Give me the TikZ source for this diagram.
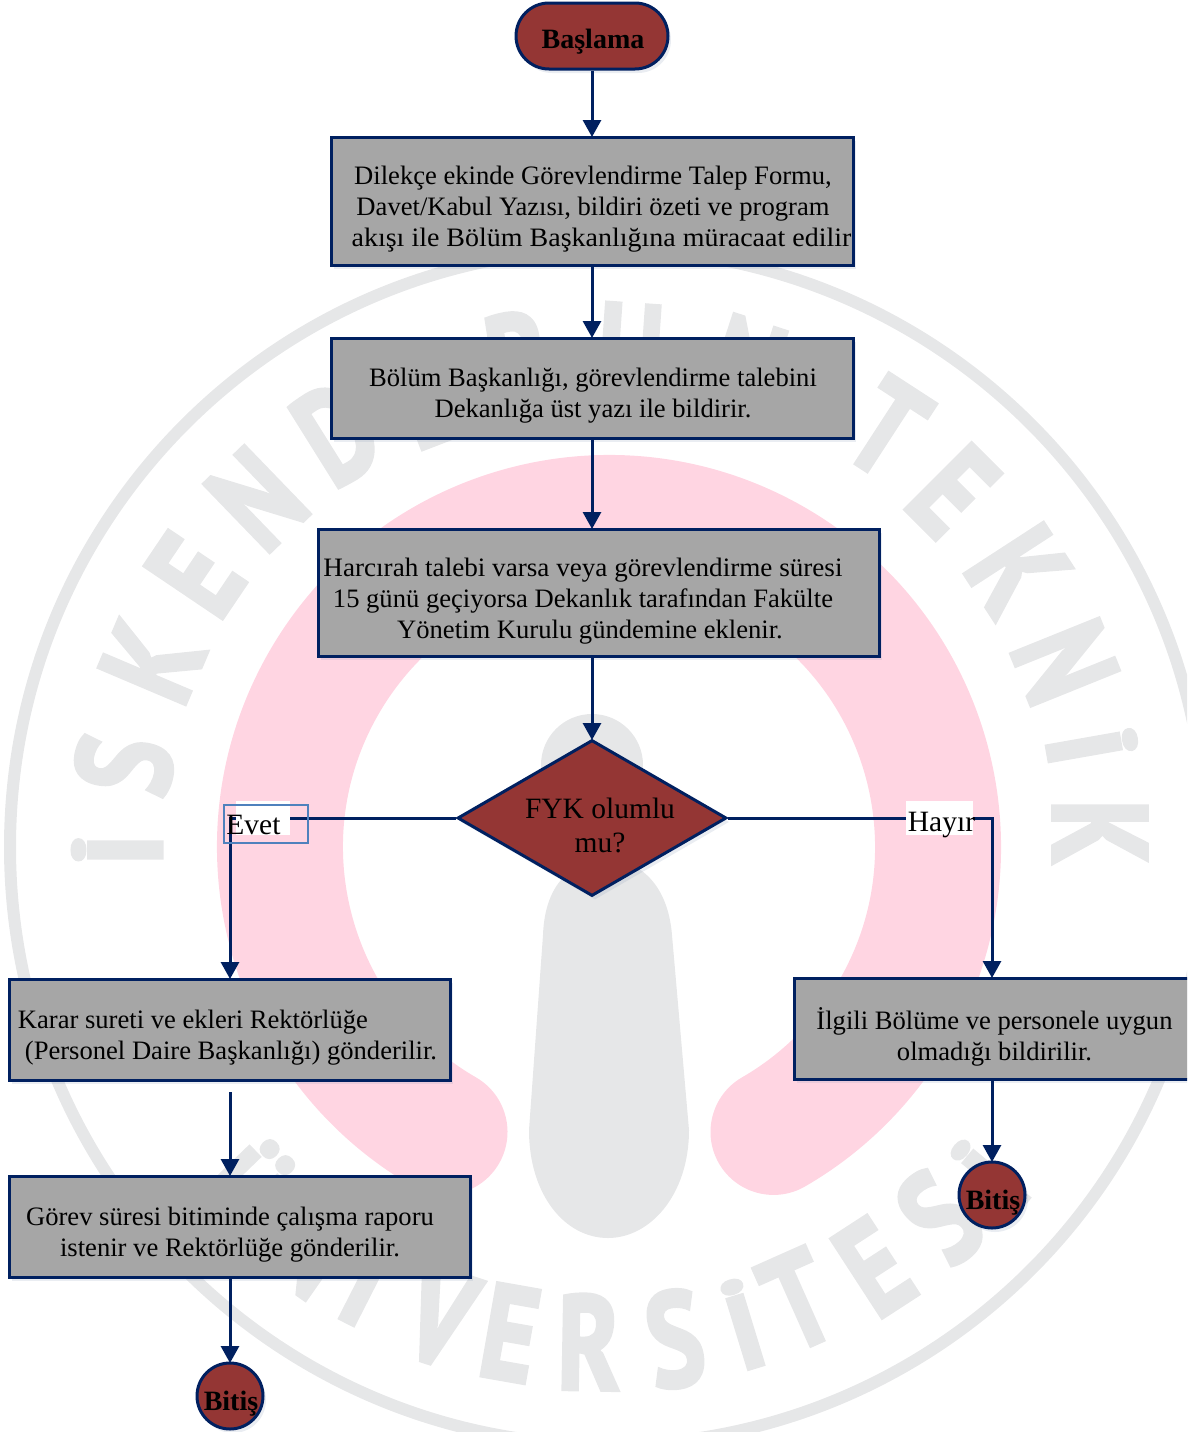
\documentclass[tikz,border=0pt]{standalone}
\usepackage{graphicx}
\usepackage{fontspec}
\setmainfont{Liberation Serif}
\newfontfamily\wmfont[BoldFeatures={FakeBold=3}]{PT Sans}
\usetikzlibrary{arrows.meta,shapes.geometric,shadows,calc}
\definecolor{navy}{HTML}{002060}
\definecolor{boxgray}{HTML}{A6A6A6}
\definecolor{brick}{HTML}{943634}
\definecolor{wmgray}{HTML}{E6E7E8}
\definecolor{wmpink}{HTML}{FFD5E2}
\definecolor{tagblue}{HTML}{4F81BD}
\newcommand\wl[1]{\scalebox{.78}[1]{#1}}
\newcommand\wi{\scalebox{.85}[.78]{İ}}
\tikzset{
  softshadow/.style={general shadow={shadow xshift=3pt,shadow yshift=-4pt,fill=navy!45,opacity=.18}},
  flowbox/.style={draw=navy,line width=3pt,fill=boxgray,inner sep=0pt,softshadow,text=black},
  wm/.style={font=\wmfont\bfseries\fontsize{134}{134}\selectfont,text=wmgray,inner sep=0pt},
  txt/.style={font=\fontsize{26.6}{31}\selectfont,align=center,inner sep=0pt,text=black},
  arr/.style={draw=navy,line width=3pt,shorten >=-1.5pt,-{Triangle[length=17pt,width=18pt]}},
  endpt/.style={circle,draw=navy,line width=3pt,fill=brick,minimum size=66pt,inner sep=0pt,softshadow},
  boldlab/.style={font=\bfseries\fontsize{28}{32}\selectfont,inner sep=0pt,text=black},
  patch/.style={fill=white,draw=none,inner sep=0pt},
}
\begin{document}
\begin{tikzpicture}[x=1pt,y=-1pt]
\useasboundingbox (0,0) rectangle (1187,1432);
\clip (0,0) rectangle (1187,1432);
% watermark
\draw[wmgray,line width=12pt] (608,847) circle[radius=598pt];
\draw[wmpink,line width=126pt,line cap=round] (609,847) ++(240:329pt) arc[start angle=240,end angle=-60,radius=329pt];
\fill[wmgray] (592,765) circle[radius=51pt];
\fill[wmgray] (543,935) .. controls (545,880) and (575,860) .. (608,860) .. controls (640,860) and (668,885) .. (672,935) -- (689,1130) .. controls (689,1195) and (650,1238) .. (608,1238) .. controls (565,1238) and (529,1195) .. (529,1130) -- cycle;
\foreach \x/\y/\r/\l [count=\n] in {
  117/850/90/\wi, 124/765/80/\wl{S}, 152/662/67/\wl{K}, 195/575/56/\wl{E}, 257/499/44/\wl{N}, 337/433/32/\wl{D},
  425/398/21/\wl{E}, 518/360/9/\wl{R}, 630/352/-4/\wl{U}, 746/368/-18/\wl{N},
  887/428/-33/\wl{T}, 953/491/-45/\wl{E}, 1018/570/-57/\wl{K}, 1065/662/-68/\wl{N}, 1092/746/-80/\wi, 1100/832/-90/\wl{K},
  241/1192/-46/\wl{Ü}, 310/1245/-35/\wl{N}, 367/1282/-27/\wi, 440/1317/-18/\wl{V}, 510/1333/-10/\wl{E}, 589/1342/-1/\wl{R},
  675/1339/9/\wl{S}, 743/1324/17/\wi, 798/1300/24/\wl{T}, 874/1267/33/\wl{E}, 940/1217/43/\wl{S}, 990/1175/50/\wi}
  {\node[wm,rotate=\r] (wm\n) at (\x,\y) {\l};}
% nodes
\node[draw=navy,line width=3pt,fill=brick,rounded corners=33pt,minimum width=152pt,minimum height=66pt,inner sep=0pt,softshadow] (start) at (592,36) {};
\node[boldlab] (startlab) at (593,42) {Başlama};
\node[flowbox,minimum width=522pt,minimum height=128pt] (b1) at (592,201) {};
\node[txt] (b1t) at (593,209) {Dilekçe ekinde Görevlendirme Talep Formu,\\Davet/Kabul Yazısı, bildiri özeti ve program\\\hspace*{17pt}\scalebox{1.052}[1]{akışı ile Bölüm Başkanlığına müracaat edilir}};
\node[flowbox,minimum width=522pt,minimum height=100pt] (b2) at (592,388) {};
\node[txt] (b2t) at (593,396) {Bölüm Başkanlığı, görevlendirme talebini\\Dekanlığa üst yazı ile bildirir.};
\node[flowbox,minimum width=561pt,minimum height=127pt] (b3) at (598.5,592.5) {};
\node[txt] (b3t) at (583,601) {\scalebox{1.02}[1]{Harcırah talebi varsa veya görevlendirme süresi}\\15 günü geçiyorsa Dekanlık tarafından Fakülte\\\hspace*{14pt}Yönetim Kurulu gündemine eklenir.};
\node[diamond,draw=navy,line width=3pt,fill=brick,minimum width=269pt,minimum height=156pt,inner sep=0pt,softshadow] (fyk) at (592,818) {};
\node[txt,font=\fontsize{29.5}{34}\selectfont] (fykt) at (600,825) {FYK olumlu\\mu?};
\node[flowbox,minimum width=441pt,minimum height=101pt] (kar) at (229.5,1029.5) {};
\node[txt,align=left] (kart) at (229,1038) {\hspace*{-3pt}Karar sureti ve ekleri Rektörlüğe\\\hspace*{4pt}(Personel Daire Başkanlığı) gönderilir.};
\node[flowbox,minimum width=461pt,minimum height=101pt] (gor) at (239.5,1226.5) {};
\node[txt] (gort) at (230,1235) {Görev süresi bitiminde çalışma raporu\\istenir ve Rektörlüğe gönderilir.};
\node[flowbox,minimum width=396pt,minimum height=101pt] (ilg) at (992,1028.5) {};
\node[txt] (ilgt) at (994.5,1037) {İlgili Bölüme ve personele uygun\\olmadığı bildirilir.};
\node[endpt] (e1) at (230,1396) {};
\node[boldlab] (e1t) at (231,1404) {Bitiş};
\node[endpt] (e2) at (992,1195) {};
\node[boldlab] (e2t) at (993,1203) {Bitiş};
% connectors
\draw[arr] (start.south) -- (start.south |- b1.north);
\draw[arr] (b1.south) -- (b2.north);
\draw[arr] (b2.south) -- (b2.south |- b3.north);
\draw[arr] (fyk.north |- b3.south) -- (fyk.north);
\draw[arr] (fyk.west) -| (e1.north |- kar.north);
\draw[arr] (fyk.east) -| (e2.north |- ilg.north);
\coordinate (karout) at (230,1092);
\draw[arr] (karout) -- (karout |- gor.north);
\draw[arr] (e1.north |- gor.south) -- (e1.north);
\draw[arr] (e2.north |- ilg.south) -- (e2.north);
% labels
\node[patch,minimum width=54pt,minimum height=34pt] (evpatch) at (263,818) {};
\node[draw=tagblue,line width=1.5pt,minimum width=84pt,minimum height=38pt,inner sep=0pt] (evtag) at (266,824) {};
\node[txt,font=\fontsize{29.5}{34}\selectfont] (ev) at (253.5,825) {Evet};
\node[patch,minimum width=67pt,minimum height=34pt] (hapatch) at (939.5,818) {};
\node[txt,font=\fontsize{29.5}{34}\selectfont] (ha) at (941.5,825) {Hayır};
\end{tikzpicture}
\end{document}
